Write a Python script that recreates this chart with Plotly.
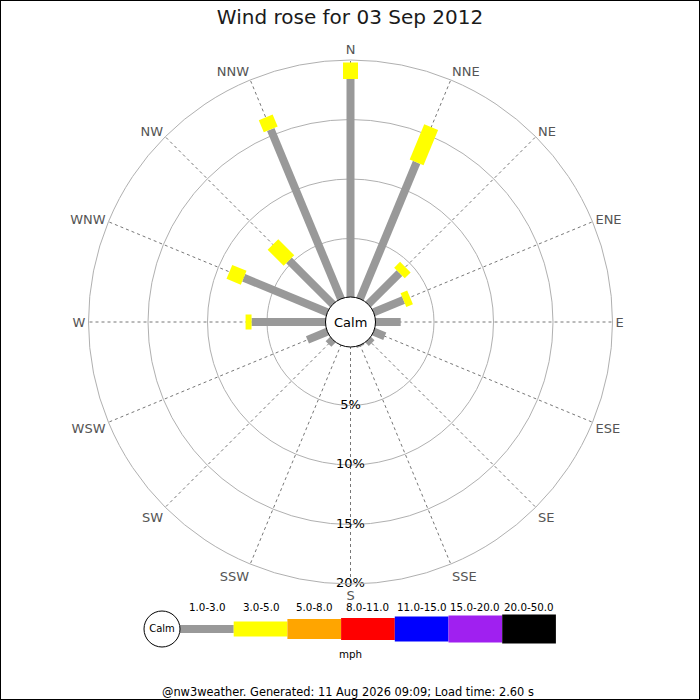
import plotly.graph_objects as go

# ---- data ----
directions = ["N", "NNE", "NE", "ENE", "E", "ESE", "SE", "SSE",
              "S", "SSW", "SW", "WSW", "W", "WNW", "NW", "NNW"]
angles = [i * 22.5 for i in range(16)]
pct_1_3 = [18.4, 12.5, 3.8, 2.8, 2.2, 1.1, 0.5, 0.2,
           0.0, 0.0, 0.6, 1.9, 6.3, 7.7, 5.3, 15.5]
pct_3_5 = [1.4, 3.2, 0.7, 0.6, 0.0, 0.0, 0.0, 0.0,
           0.0, 0.0, 0.0, 0.0, 0.5, 1.3, 1.9, 1.1]
radial_ticks = [5, 10, 15, 20]
radial_labels = ["5%", "10%", "15%", "20%"]
speed_bins = ["1.0-3.0", "3.0-5.0", "5.0-8.0", "8.0-11.0", "11.0-15.0", "15.0-20.0", "20.0-50.0"]
bin_colors = ["#999999", "#ffff00", "#ffa500", "#ff0000", "#0000ff", "#a020f0", "#000000"]
bin_widths = [8, 15, 20, 22, 25, 27, 29]

FONT = "DejaVu Sans"
W = H = 700
cx_px, cy_px, R_px, hole_px = 350.5, 322.0, 262.0, 24.0

fig = go.Figure()

# bars: one trace per speed class, segments separated by None
series = [pct_1_3, pct_3_5]
for k, vals in enumerate(series):
    rs, ts = [], []
    for i, a in enumerate(angles):
        base = sum(series[j][i] for j in range(k))
        if vals[i] <= 0:
            continue
        rs += [base, base + vals[i], None]
        ts += [a, a, None]
    fig.add_trace(go.Scatterpolar(
        r=rs, theta=ts, mode="lines",
        line=dict(color=bin_colors[k], width=bin_widths[k]),
        connectgaps=False, hoverinfo="skip", showlegend=False))

# radial labels along south
fig.add_trace(go.Scatterpolar(
    r=radial_ticks, theta=[180] * len(radial_ticks), mode="text",
    text=radial_labels, textposition="middle center",
    textfont=dict(family=FONT, size=13, color="#000000"),
    hoverinfo="skip", showlegend=False))

dom_x = [(cx_px - R_px) / W, (cx_px + R_px) / W]
dom_y = [1 - (cy_px + R_px) / H, 1 - (cy_px - R_px) / H]

fig.update_layout(
    width=W, height=H, autosize=False,
    margin=dict(l=0, r=0, t=0, b=0),
    paper_bgcolor="white", plot_bgcolor="white",
    showlegend=False,
    font=dict(family=FONT),
    title=dict(text="Wind rose for 03 Sep 2012", x=0.5, xanchor="center",
               y=1 - 17 / H, yanchor="middle",
               font=dict(family=FONT, size=20, color="#1a1a1a")),
    polar=dict(
        domain=dict(x=dom_x, y=dom_y),
        hole=hole_px / R_px,
        bgcolor="white",
        radialaxis=dict(range=[0, 20], tickvals=radial_ticks, showticklabels=False,
                        ticks="", showline=False, gridcolor="#b0b0b0", gridwidth=1),
        angularaxis=dict(rotation=90, direction="clockwise",
                         tickmode="array", tickvals=angles, ticktext=directions,
                         ticks="", showline=True, linecolor="#b0b0b0", linewidth=1,
                         gridcolor="#777777", griddash="dot", gridwidth=1,
                         tickfont=dict(family=FONT, size=13, color="#555555")),
    ),
)

# calm circle in centre
cxp, cyp = (dom_x[0] + dom_x[1]) / 2, (dom_y[0] + dom_y[1]) / 2
rc = 25.0
fig.add_shape(type="circle", xref="paper", yref="paper",
              x0=cxp - rc / W, x1=cxp + rc / W, y0=cyp - rc / H, y1=cyp + rc / H,
              fillcolor="white", line=dict(color="black", width=1), layer="above")
fig.add_annotation(text="Calm", xref="paper", yref="paper", x=cxp, y=cyp,
                   showarrow=False, font=dict(family=FONT, size=13, color="black"))

# legend bar (cartesian subplot)
seg_px = 53.7
x0_px = 180.0
lx_dom = [130 / W, 570 / W]
lx_range = [(130 - x0_px) / seg_px, (570 - x0_px) / seg_px]
ly_c = 1 - 629 / H
for i, (lab, col, w) in enumerate(zip(speed_bins, bin_colors, bin_widths)):
    fig.add_trace(go.Scatter(x=[i, i + 1], y=[0, 0], mode="lines",
                             line=dict(color=col, width=w),
                             xaxis="x", yaxis="y", hoverinfo="skip", showlegend=False))
    fig.add_annotation(text=lab, xref="x", yref="paper", x=i + 0.5, y=1 - 607 / H,
                       showarrow=False, yanchor="middle",
                       font=dict(family=FONT, size=10.3, color="black"))
fig.add_trace(go.Scatter(x=[-18 / seg_px], y=[0], mode="markers+text", text=["Calm"],
                         textposition="middle center",
                         textfont=dict(family=FONT, size=10, color="black"),
                         marker=dict(size=36, color="white", line=dict(color="black", width=1)),
                         cliponaxis=False, hoverinfo="skip", showlegend=False))
fig.update_layout(
    xaxis=dict(domain=lx_dom, range=lx_range, visible=False, fixedrange=True),
    yaxis=dict(domain=[ly_c - 0.03, ly_c + 0.03], range=[-1, 1], visible=False, fixedrange=True),
)
fig.add_annotation(text="mph", xref="paper", yref="paper", x=0.5, y=1 - 654 / H,
                   showarrow=False, yanchor="middle",
                   font=dict(family=FONT, size=10.3, color="black"))
fig.add_annotation(text="@nw3weather. Generated: 11 Aug 2026 09:09; Load time: 2.60 s",
                   xref="paper", yref="paper", x=348 / W, y=1 - 692 / H,
                   showarrow=False, yanchor="middle",
                   font=dict(family=FONT, size=11.4, color="black"))

# image border
fig.add_shape(type="rect", xref="paper", yref="paper", x0=0, x1=1, y0=0, y1=1,
              line=dict(color="black", width=2), layer="above")

fig.write_html("out.html", config={"displayModeBar": False},
               post_script="document.body.style.margin='0px';document.body.style.overflow='hidden';")
